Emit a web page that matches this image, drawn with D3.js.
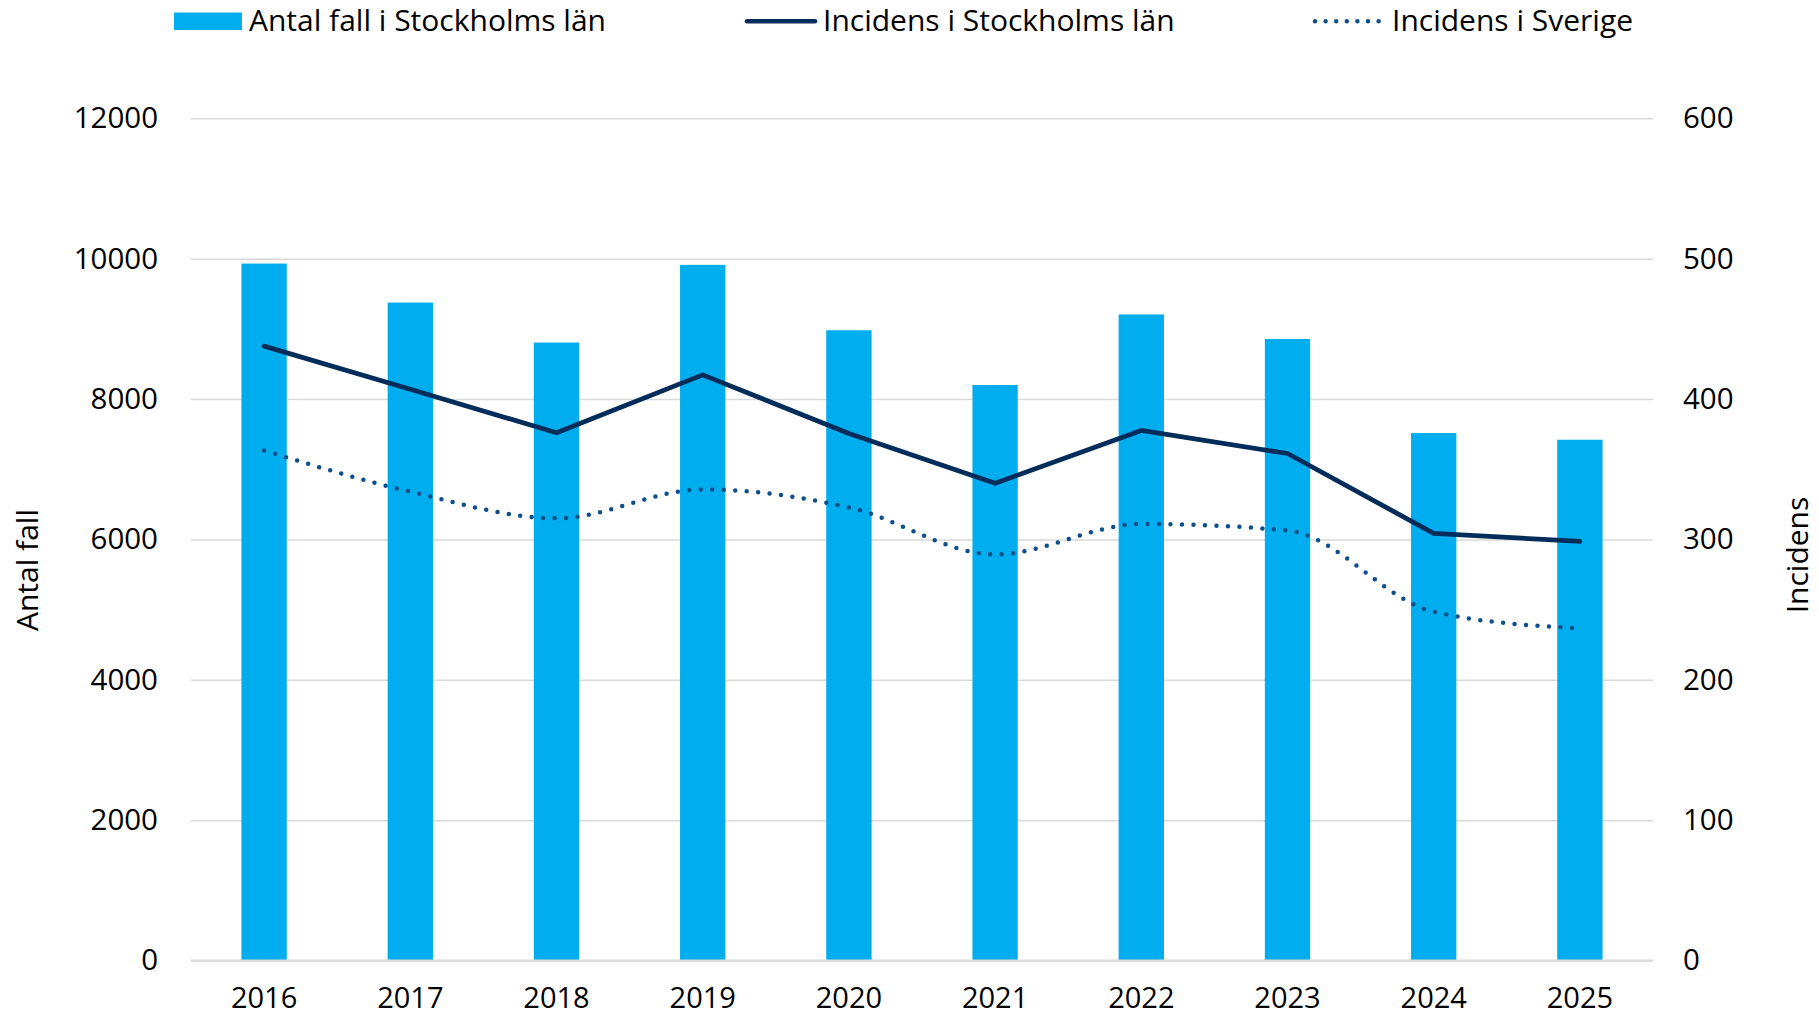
<!DOCTYPE html>
<html>
<head>
<meta charset="utf-8">
<script src="https://cdn.jsdelivr.net/npm/d3@7"></script>
<style>
  html, body { margin: 0; padding: 0; background: #fff; }
  svg { display: block; }
  text { font-family: "Open Sans", "Liberation Sans", sans-serif; fill: #000; }
</style>
</head>
<body>
<svg id="chart" width="1819" height="1017"></svg>
<script>
const years = ["2016","2017","2018","2019","2020","2021","2022","2023","2024","2025"];
const antalFall = [9930, 9375, 8805, 9912, 8980, 8200, 9205, 8855, 7515, 7420];
const incidensStockholm = [437.7, 407, 376, 417.2, 375.5, 340, 377.6, 361.2, 304.3, 298.6];
const incidensSverige = [363.4, 334, 315, 335.6, 322.8, 289.3, 311, 306.4, 248.4, 236.6];
const leftTicks = [0, 2000, 4000, 6000, 8000, 10000, 12000];
const rightTicks = [0, 100, 200, 300, 400, 500, 600];
const legendLabels = ["Antal fall i Stockholms län", "Incidens i Stockholms län", "Incidens i Sverige"];
const leftTitle = "Antal fall";
const rightTitle = "Incidens";

(function () {
const barColor = "#00adee";
const solidColor = "#022d5a";
const dotColor = "#0d4f8b";
const gridColor = "#d9d9d9";

const svg = d3.select("#chart");
const pLeft = 191, pRight = 1653, pTop = 118.3, pBottom = 960.5;

const x = d3.scaleBand().domain(years).range([pLeft, pRight]).padding(0);
const yL = d3.scaleLinear().domain([0, 12000]).range([pBottom, pTop]);
const yR = d3.scaleLinear().domain([0, 600]).range([pBottom, pTop]);
const bw = x.bandwidth();
const barW = bw * 0.31;

// gridlines
const grid = svg.append("g")
  .attr("transform", `translate(${pLeft},0)`)
  .call(d3.axisLeft(yL).tickValues(leftTicks).tickSize(-(pRight - pLeft)).tickFormat(""));
grid.select(".domain").remove();
grid.selectAll("line").attr("stroke", gridColor).attr("stroke-width", 1.5);

// bars
svg.append("g").selectAll("rect").data(years).join("rect")
  .attr("x", (d) => x(d) + (bw - barW) / 2)
  .attr("width", barW)
  .attr("y", (d, i) => yL(antalFall[i]))
  .attr("height", (d, i) => yL(0) - yL(antalFall[i]))
  .attr("fill", barColor);

// baseline
svg.append("line").attr("x1", pLeft).attr("x2", pRight)
  .attr("y1", yL(0)).attr("y2", yL(0))
  .attr("stroke", gridColor).attr("stroke-width", 2);

// lines
const cx = (d) => x(d) + bw / 2;
const lineSolid = d3.line().x((d, i) => cx(years[i])).y((d) => yR(d));
svg.append("path").datum(incidensStockholm)
  .attr("d", lineSolid)
  .attr("fill", "none").attr("stroke", solidColor)
  .attr("stroke-width", 4.8).attr("stroke-linejoin", "round").attr("stroke-linecap", "round");

const lineDot = d3.line().x((d, i) => cx(years[i])).y((d) => yR(d)).curve(d3.curveMonotoneX);
svg.append("path").datum(incidensSverige)
  .attr("d", lineDot)
  .attr("fill", "none").attr("stroke", dotColor)
  .attr("stroke-width", 4.5).attr("stroke-linecap", "round")
  .attr("stroke-dasharray", "0 11.5");

// left axis
const axL = svg.append("g").attr("transform", `translate(${pLeft},0)`)
  .call(d3.axisLeft(yL).tickValues(leftTicks).tickSize(0).tickPadding(33).tickFormat(d3.format("d")));
axL.select(".domain").remove();
axL.selectAll("text").style("font-size", "29.5px").attr("fill", "#000");

// right axis
const axR = svg.append("g").attr("transform", `translate(${pRight},0)`)
  .call(d3.axisRight(yR).tickValues(rightTicks).tickSize(0).tickPadding(30).tickFormat(d3.format("d")));
axR.select(".domain").remove();
axR.selectAll("text").style("font-size", "29.5px").attr("fill", "#000");

// bottom axis
const axB = svg.append("g").attr("transform", `translate(0,${pBottom})`)
  .call(d3.axisBottom(x).tickSize(0).tickPadding(0));
axB.select(".domain").remove();
axB.selectAll("text").style("font-size", "29px").attr("fill", "#000")
  .attr("y", 37.5).attr("dy", "0.35em");

// axis titles
svg.append("text").attr("transform", "translate(27,570) rotate(-90)")
  .attr("text-anchor", "middle").attr("dy", "0.35em")
  .style("font-size", "30px").text(leftTitle);
svg.append("text").attr("transform", "translate(1797,555) rotate(-90)")
  .attr("text-anchor", "middle").attr("dy", "0.35em")
  .style("font-size", "30px").text(rightTitle);

// legend
const lg = svg.append("g");
lg.append("rect").attr("x", 174).attr("y", 12.5).attr("width", 68).attr("height", 17.5).attr("fill", barColor);
lg.append("text").attr("x", 249).attr("y", 30.5).style("font-size", "30px").text(legendLabels[0]);
lg.append("line").attr("x1", 747).attr("x2", 815).attr("y1", 21.3).attr("y2", 21.3)
  .attr("stroke", solidColor).attr("stroke-width", 4.5).attr("stroke-linecap", "round");
lg.append("text").attr("x", 823).attr("y", 30.5).style("font-size", "30px").text(legendLabels[1]);
lg.append("line").attr("x1", 1315).attr("x2", 1379).attr("y1", 21.3).attr("y2", 21.3)
  .attr("stroke", dotColor).attr("stroke-width", 4.5).attr("stroke-linecap", "round")
  .attr("stroke-dasharray", "0 10.6");
lg.append("text").attr("x", 1392).attr("y", 30.5).style("font-size", "30px").text(legendLabels[2]);
})();
</script>
</body>
</html>
